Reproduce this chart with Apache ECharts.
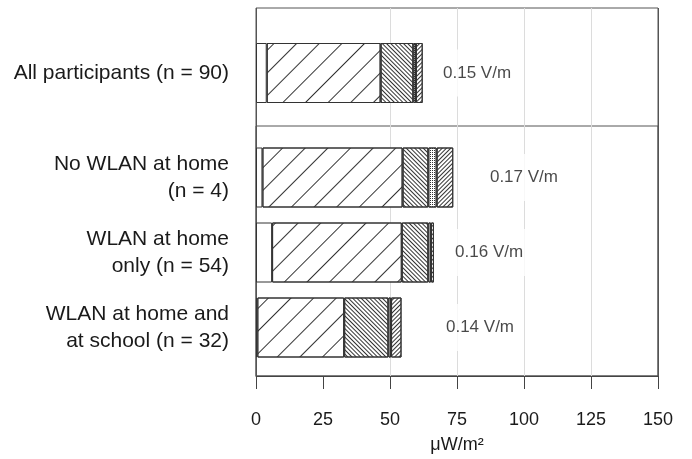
<!DOCTYPE html>
<html><head><meta charset="utf-8">
<script src="https://cdn.jsdelivr.net/npm/echarts@6/dist/echarts.min.js"></script>
<style>html,body{margin:0;padding:0;background:#fff}#c{width:692px;height:459px}</style>
</head><body><div id="c"></div>
<script>
// Groups
const groupTop = ['All participants (n = 90)'];
const groupSub = ['No WLAN at home\n(n = 4)', 'WLAN at home\nonly (n = 54)', 'WLAN at home and\nat school (n = 32)'];
// Stacked exposure contributions in µW/m² (order: All, No WLAN, WLAN home only, WLAN home + school)
const seg1 = [4.0, 2.4, 6.0, 0.5];
const seg2 = [42.5, 52.3, 48.4, 32.4];
const seg3 = [12.2, 9.6, 9.9, 16.5];
const seg4 = [1.0, 3.1, 1.0, 1.0];
const seg5 = [2.5, 6.2, 1.1, 3.9];
// Field strength annotations and where they sit on the µW/m² scale
const fieldLabels = ['0.15 V/m', '0.17 V/m', '0.16 V/m', '0.14 V/m'];
const labelAt = [68.3, 85.8, 72.8, 69.4];
// Axis ticks
const xTicks = [0, 25, 50, 75, 100, 125, 150];

const FONT = 'Liberation Sans, Arial, sans-serif';
const INK = '#333';
const xMin = xTicks[0], xMax = xTicks[xTicks.length - 1], xStep = xTicks[1] - xTicks[0];

const decals = [
  null,
  { symbol: 'rect', symbolSize: 1, color: INK, dashArrayX: [1, 0], dashArrayY: [1, 15], rotation: -Math.PI / 4 },
  { symbol: 'rect', symbolSize: 1, color: INK, dashArrayX: [1, 0], dashArrayY: [1, 2], rotation: Math.PI / 4 },
  { symbol: 'rect', symbolSize: 1, color: INK, dashArrayX: [1, 1], dashArrayY: [1, 1], rotation: 0 },
  { symbol: 'rect', symbolSize: 1, color: INK, dashArrayX: [1, 0], dashArrayY: [1, 2], rotation: -Math.PI / 4 }
];
const segs = [seg1, seg2, seg3, seg4, seg5];

const series = [];
segs.forEach((s, k) => {
  const itemStyle = { color: '#fff', borderColor: INK, borderWidth: 1 };
  if (decals[k]) itemStyle.decal = decals[k];
  series.push({
    type: 'bar', name: 'part ' + (k + 1), stack: 'top', xAxisIndex: 1, yAxisIndex: 1,
    barWidth: 60, data: [s[0]], itemStyle: itemStyle, silent: true
  });
  series.push({
    type: 'bar', name: 'part ' + (k + 1), stack: 'sub', xAxisIndex: 2, yAxisIndex: 2,
    barWidth: 60, data: s.slice(1), itemStyle: itemStyle, silent: true
  });
});

const labelStyle = {
  show: true, position: 'right', distance: 0, formatter: '{b}',
  fontSize: 17, color: '#1a1a1a', fontFamily: FONT,
  backgroundColor: '#fff', padding: [15, 4]
};
series.push({
  type: 'scatter', xAxisIndex: 1, yAxisIndex: 1, symbolSize: 0, z: 5, silent: true,
  data: [{ name: fieldLabels[0], value: [labelAt[0], 0] }], label: labelStyle
});
series.push({
  type: 'scatter', xAxisIndex: 2, yAxisIndex: 2, symbolSize: 0, z: 5, silent: true,
  data: groupSub.map((g, i) => ({ name: fieldLabels[i + 1], value: [labelAt[i + 1], i] })),
  label: labelStyle
});

const catLabel = { fontSize: 21, lineHeight: 27, margin: 27, color: '#1a1a1a', fontFamily: FONT };
const hiddenX = (gi) => ({ gridIndex: gi, type: 'value', min: xMin, max: xMax, interval: xStep, show: false });

const option = {
  animation: false,
  backgroundColor: '#fff',
  textStyle: { fontFamily: FONT },
  grid: [
    { left: 256, right: 34, top: 8, bottom: 83, show: true, borderColor: '#555', borderWidth: 1 },
    { left: 256, right: 34, top: 13, height: 120 },
    { left: 256, right: 34, top: 140, height: 225 },
    { left: 256, right: 34, top: 126, bottom: 83, show: true, borderColor: '#555', borderWidth: 1 }
  ],
  xAxis: [
    {
      gridIndex: 0, type: 'value', min: xMin, max: xMax, interval: xStep,
      axisLine: { show: true, lineStyle: { color: '#444', width: 1 } },
      axisTick: { show: true, inside: false, length: 13, lineStyle: { color: '#444' } },
      axisLabel: { fontSize: 18, margin: 35, color: '#1a1a1a', fontFamily: FONT },
      splitLine: { show: true, lineStyle: { color: ['#555', 'rgba(0,0,0,0)', '#dcdcdc', '#dcdcdc', '#dcdcdc', '#dcdcdc', '#555'], width: 1 } },
      name: 'μW/m²', nameLocation: 'middle', nameGap: 60,
      nameTextStyle: { fontSize: 18, color: '#1a1a1a', fontFamily: FONT }
    },
    hiddenX(1), hiddenX(2), hiddenX(3)
  ],
  yAxis: [
    { gridIndex: 0, type: 'category', data: [''], show: false },
    { gridIndex: 1, type: 'category', data: groupTop, axisLine: { show: false }, axisTick: { show: false }, axisLabel: catLabel },
    { gridIndex: 2, type: 'category', data: groupSub, inverse: true, axisLine: { show: false }, axisTick: { show: false }, axisLabel: catLabel },
    { gridIndex: 3, type: 'category', data: [''], show: false }
  ],
  series: series
};

const chart = echarts.init(document.getElementById('c'), null, { renderer: 'canvas' });
chart.setOption(option);
</script>
</body></html>
